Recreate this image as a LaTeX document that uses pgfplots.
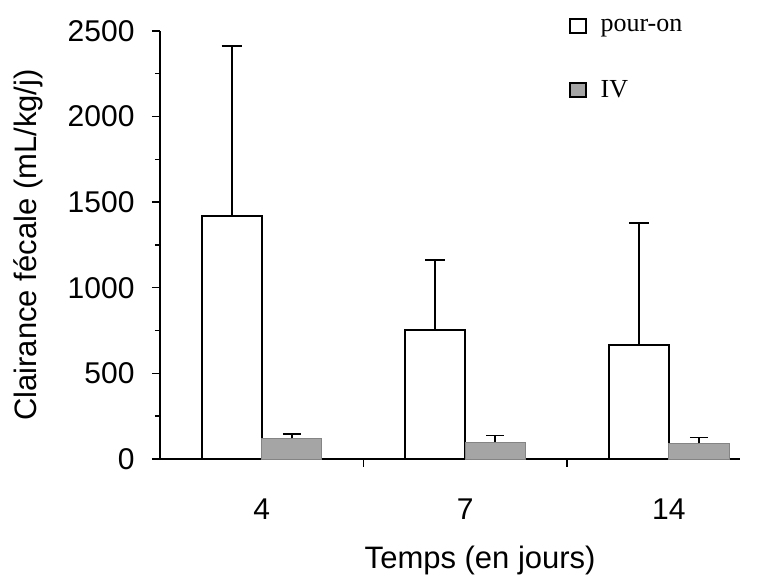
\documentclass[border=0pt]{standalone}
\usepackage{fontspec}
\setmainfont{Liberation Sans}
\newfontfamily\legendfont{Liberation Serif}
\usepackage{pgfplots}
\pgfplotsset{compat=1.18}
\definecolor{ivgray}{RGB}{165,165,165}
\pgfplotstableread{
x y e
-0.1475 1420 990
0.8525 755 410
1.8525 665 715
}\pouron
\pgfplotstableread{
x y e
0.1475 120 25
1.1475 98 40
2.1475 92 33
}\iv
\begin{document}
\begin{tikzpicture}
\useasboundingbox (0,0) rectangle (763pt,580pt);
\begin{axis}[
  at={(160pt,121pt)}, anchor=south west,
  scale only axis, width=580pt, height=428pt,
  xmin=-0.5, xmax=2.35, ymin=0, ymax=2500,
  axis lines*=left,
  axis line style={line width=1.6pt},
  ytick={0,500,...,2500}, minor ytick={250,750,...,2250},
  tick align=outside, major tick length=8pt, minor tick length=5pt,
  every tick/.style={line width=1.4pt, black},
  xtick={0,1,2}, xticklabels={4,7,14},
  xtick style={draw=none},
  extra x ticks={0.5,1.5}, extra x tick labels={},
  extra x tick style={xtick style={draw=black}},
  tick label style={font=\fontsize{30}{32}\selectfont},
  x tick label style={yshift=-28pt},
  y tick label style={xshift=-14pt},
  /pgf/number format/assume math mode=true,
  /pgf/number format/set thousands separator={},
  xlabel={Temps (en jours)}, ylabel={Clairance fécale (mL/kg/j)},
  label style={font=\fontsize{31}{34}\selectfont},
  x label style={at={(rel axis cs:0.552,0)}, anchor=center, yshift=-101pt},
  y label style={at={(rel axis cs:0,0.5)}, anchor=center, yshift=132pt},
  legend style={draw=none, fill=none, inner sep=0pt, at={(rel axis cs:0.705,1.033)}, anchor=north west,
    font=\legendfont\fontsize{26}{28}\selectfont, row sep=44pt,
    /tikz/every odd column/.append style={column sep=12pt}},
  legend cell align=left,
  legend image code/.code={\draw[#1, draw=black, line width=1.5pt] (0pt,-7pt) rectangle (16pt,7pt);},
  clip=false,
]
\addplot[ybar, bar width=0.295, bar shift=0pt, fill=white, draw=black, line width=2pt,
  error bars/.cd, y dir=plus, y explicit,
  error bar style={line width=2pt, black},
  error mark options={rotate=90, mark size=10pt, line width=2pt, black}]
  table[x=x, y=y, y error=e] {\pouron};
\addlegendentry{pour-on}
\addplot[ybar, bar width=0.295, bar shift=0pt, fill=ivgray, draw=ivgray!80!black, line width=0.6pt,
  error bars/.cd, y dir=plus, y explicit,
  error bar style={line width=1.6pt, black},
  error mark options={rotate=90, mark size=9pt, line width=1.6pt, black}]
  table[x=x, y=y, y error=e] {\iv};
\addlegendentry{IV}
\end{axis}
\end{tikzpicture}
\end{document}
